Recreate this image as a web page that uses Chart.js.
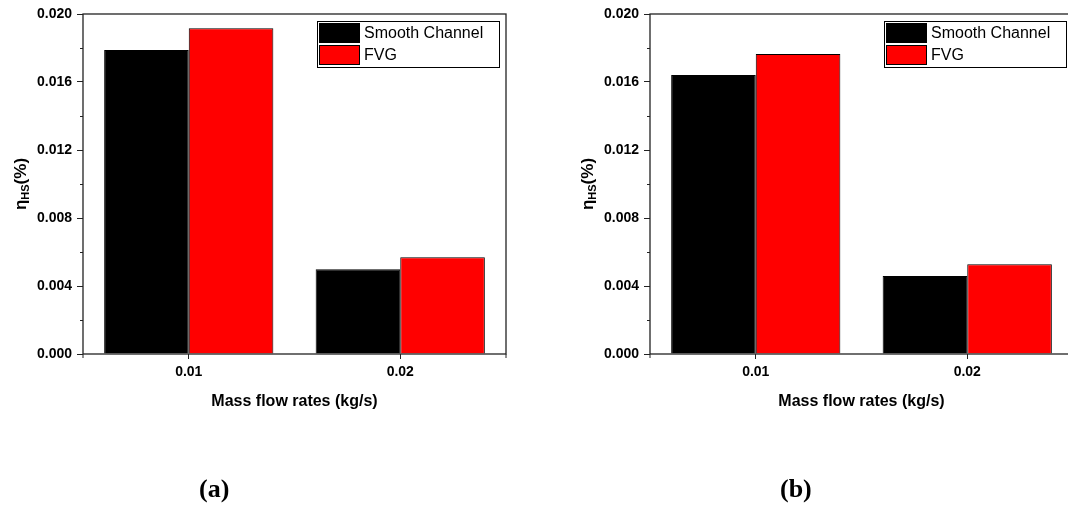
<html>
<head>
<style>
  html, body { margin: 0; padding: 0; background: #fff; overflow: hidden; }
  body { width: 1068px; height: 510px; position: relative; }
  .panel { position: absolute; top: 0; width: 534px; height: 510px; }
  .cap { position: absolute; font: bold 26px "Liberation Serif", "Times New Roman", serif; color: #000; }
</style>
<script src="https://cdn.jsdelivr.net/npm/chart.js"></script>
</head>
<body>
<div class="panel" style="left:0px"><canvas id="chartA" width="534" height="510"></canvas></div>
<div class="panel" style="left:567px"><canvas id="chartB" width="534" height="510"></canvas></div>
<div class="cap" style="left:199px; top:474px">(a)</div>
<div class="cap" style="left:780px; top:474px">(b)</div>
<script>
// mass flow rates on the x axis
var flowRates = ['0.01', '0.02'];
var seriesNames = ['Smooth Channel', 'FVG'];
var seriesColors = ['#000000', '#ff0000'];

// eta_HS (%) for case (a)
var smoothA = [0.01788, 0.00498];
var fvgA = [0.01916, 0.00569];
// eta_HS (%) for case (b)
var smoothB = [0.01641, 0.00459];
var fvgB = [0.01765, 0.00528];

var yTicks = [0, 0.004, 0.008, 0.012, 0.016, 0.020];

var axisColor = '#222';

// frame, minor ticks, axis titles and legend box
var decorations = {
    id: 'decorations',
    afterDraw: function(chart) {
        var ctx = chart.ctx;
        var a = chart.chartArea;
        var y = chart.scales.y;
        ctx.save();
        ctx.strokeStyle = axisColor;
        ctx.lineWidth = 1.3;
        ctx.strokeRect(a.left, a.top, a.right - a.left, a.bottom - a.top);

        // short ticks at both ends of the x axis
        ctx.lineWidth = 1;
        [a.left, a.right].forEach(function(px) {
            ctx.beginPath();
            ctx.moveTo(px, a.bottom);
            ctx.lineTo(px, a.bottom + 4);
            ctx.stroke();
        });

        // minor ticks halfway between the labelled ones
        for (var i = 0; i < yTicks.length - 1; i++) {
            var py = Math.round(y.getPixelForValue((yTicks[i] + yTicks[i + 1]) / 2)) + 0.5;
            ctx.beginPath();
            ctx.moveTo(a.left - 3, py);
            ctx.lineTo(a.left, py);
            ctx.stroke();
        }

        // x title
        ctx.fillStyle = '#000';
        ctx.font = 'bold 16px "Liberation Sans", Arial, sans-serif';
        ctx.textAlign = 'center';
        ctx.textBaseline = 'alphabetic';
        ctx.fillText('Mass flow rates (kg/s)', (a.left + a.right) / 2, 406);

        // y title with subscript, rotated
        ctx.save();
        ctx.translate(26, 184);
        ctx.rotate(-Math.PI / 2);
        var main = 'bold 17px "Liberation Sans", Arial, sans-serif';
        var sub = 'bold 11px "Liberation Sans", Arial, sans-serif';
        ctx.font = main;
        var w1 = ctx.measureText('\u03b7').width;
        var w3 = ctx.measureText('(%)').width;
        ctx.font = sub;
        var w2 = ctx.measureText('HS').width;
        var x0 = -(w1 + w2 + w3) / 2;
        ctx.textAlign = 'left';
        ctx.font = main;
        ctx.fillText('\u03b7', x0, 0);
        ctx.font = sub;
        ctx.fillText('HS', x0 + w1, 3);
        ctx.font = main;
        ctx.fillText('(%)', x0 + w1 + w2, 0);
        ctx.restore();

        // legend box in the upper right corner
        var lx = a.right - 189, ly = a.top + 7, lw = 182, lh = 46;
        ctx.fillStyle = '#fff';
        ctx.fillRect(lx, ly, lw, lh);
        ctx.strokeStyle = '#000';
        ctx.lineWidth = 1;
        ctx.strokeRect(lx + 0.5, ly + 0.5, lw, lh);
        ctx.font = '16px "Liberation Sans", Arial, sans-serif';
        ctx.textAlign = 'left';
        ctx.textBaseline = 'middle';
        chart.data.datasets.forEach(function(ds, k) {
            var ry = ly + 2 + k * 22;
            ctx.fillStyle = ds.backgroundColor;
            ctx.fillRect(lx + 2, ry, 41, 20);
            ctx.strokeStyle = '#000';
            ctx.strokeRect(lx + 2.5, ry + 0.5, 40, 19);
            ctx.fillStyle = '#000';
            ctx.fillText(ds.label, lx + 47, ry + 11);
        });
        ctx.restore();
    }
};

function makeChart(id, smooth, fvg) {
    var ctx = document.getElementById(id).getContext('2d');
    return new Chart(ctx, {
        type: 'bar',
        data: {
            labels: flowRates,
            datasets: [
                { label: seriesNames[0], data: smooth, backgroundColor: seriesColors[0], borderColor: '#000', borderWidth: 1 },
                { label: seriesNames[1], data: fvg, backgroundColor: seriesColors[1], borderColor: '#000', borderWidth: 1 }
            ]
        },
        options: {
            responsive: false,
            animation: false,
            layout: { padding: { left: 0, top: 14, right: 28, bottom: 116 } },
            categoryPercentage: 0.8,
            barPercentage: 1.0,
            plugins: { legend: { display: false }, tooltip: { enabled: false } },
            scales: {
                x: {
                    grid: { offset: false, drawOnChartArea: false, tickLength: 5, color: axisColor },
                    border: { display: false },
                    ticks: { color: '#000', padding: 5, font: { family: '"Liberation Sans", Arial, sans-serif', size: 14, weight: 'bold' } },
                    afterFit: function(s) { s.height = 40; }
                },
                y: {
                    min: 0,
                    max: 0.02,
                    afterBuildTicks: function(s) { s.ticks = yTicks.map(function(v) { return { value: v }; }); },
                    grid: { drawOnChartArea: false, tickLength: 6, color: axisColor },
                    border: { display: false },
                    ticks: {
                        color: '#000',
                        padding: 5,
                        font: { family: '"Liberation Sans", Arial, sans-serif', size: 14, weight: 'bold' },
                        callback: function(v) { return v.toFixed(3); }
                    },
                    afterFit: function(s) { s.width = 83; }
                }
            }
        },
        plugins: [decorations]
    });
}

makeChart('chartA', smoothA, fvgA);
makeChart('chartB', smoothB, fvgB);
</script>
</body>
</html>
